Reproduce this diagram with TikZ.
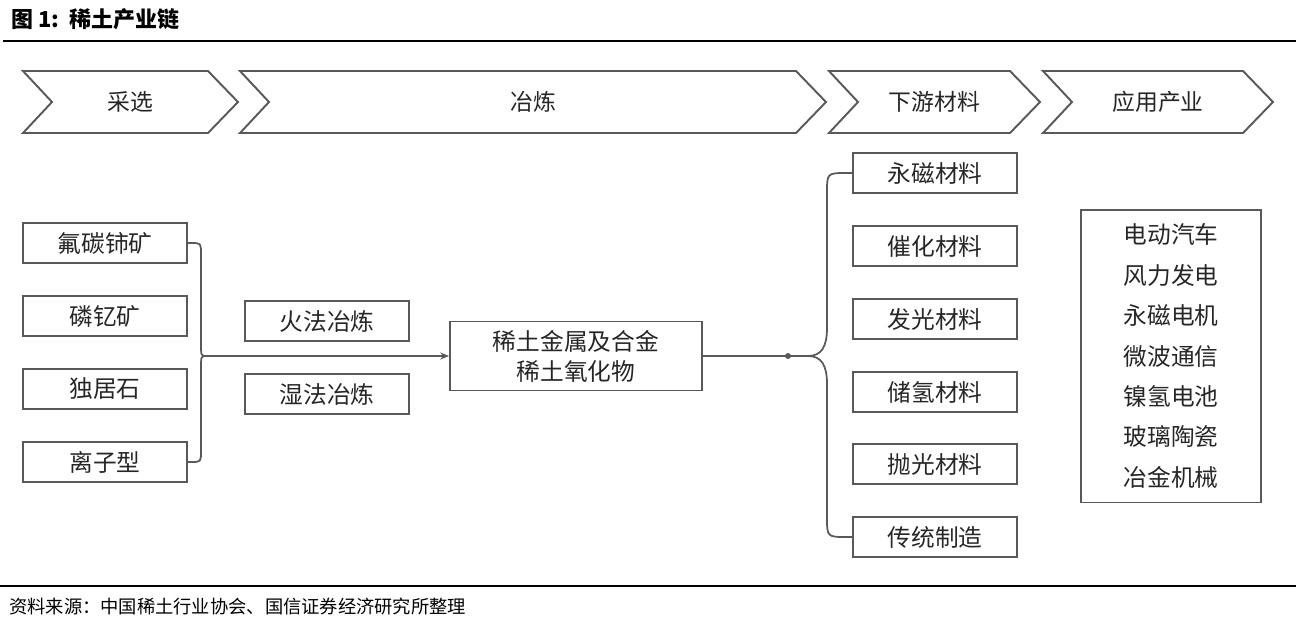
\documentclass[tikz,border=0pt]{standalone}
\usepackage{fontspec}
\setmainfont{Noto Sans CJK SC}
\usetikzlibrary{positioning,arrows.meta,calc}
\definecolor{linegray}{HTML}{595959}
\definecolor{inkgray}{HTML}{262626}

\tikzset{
  stage/.style={draw=linegray, line width=1.1pt, fill=white},
  stagetext/.style={font=\fontsize{13}{15}\selectfont, text=inkgray},
  item/.style={draw=linegray, line width=1.1pt, minimum width=3.28cm, minimum height=0.8cm,
    inner sep=0pt, font=\fontsize{13.5}{16}\selectfont, text=inkgray},
  conn/.style={draw=linegray, line width=1pt},
}

\begin{document}
\begin{tikzpicture}[x=0.02cm, y=-0.02cm]
        \useasboundingbox (0,0) rectangle (1306,620);
        % Title and rules
        \node[anchor=west, font=\bfseries\fontsize{12.5}{14}\selectfont] (title) at (5,19) {图 1:\ \ 稀土产业链};
        \draw[black, line width=0.8pt] (3,41) -- (1296,41);
        \draw[black, line width=0.8pt] (0,586) -- (1296,586);
        \node[anchor=west, font=\fontsize{10.4}{13}\selectfont] (source) at (3,607) {资料来源：中国稀土行业协会、国信证券经济研究所整理};
        % Stage chevrons
        \foreach \l/\r/\lab [count=\i] in {23/208/采选, 240/796/冶炼, 829/1010/下游材料, 1043/1243/应用产业} {
          \draw[stage] (\l,71) -- (\r,71) -- (\r+30,102) -- (\r,133) -- (\l,133) -- (\l+29,102) -- cycle;
          \node[stagetext] (stage\i) at ({(\l+\r+30)/2},102) {\lab};
        }
        % Ores
        \node[item] (ore1) at (105,243) {氟碳铈矿};
        \node[item] (ore2) at (105,316) {磷钇矿};
        \node[item] (ore3) at (105,389) {独居石};
        \node[item] (ore4) at (105,462) {离子型};
        % Smelting
        \node[item] (fire) at (327,321) {火法冶炼};
        \node[item] (wet) at (327,394) {湿法冶炼};
        \node[item, minimum width=5.04cm, minimum height=1.38cm, align=center,
          font=\fontsize{13.5}{17}\selectfont] (metal) at (576,356) {稀土金属及合金\\稀土氧化物};
        % Downstream materials
        \node[item] (mat1) at (935,173) {永磁材料};
        \node[item] (mat2) at (935,246) {催化材料};
        \node[item] (mat3) at (935,319) {发光材料};
        \node[item] (mat4) at (935,392) {储氢材料};
        \node[item] (mat5) at (935,464) {抛光材料};
        \node[item] (mat6) at (935,537) {传统制造};
        % Applications
        \node[item, minimum width=3.6cm, minimum height=5.86cm, align=center,
          font=\fontsize{13.5}{23}\selectfont] (apps) at (1171,356)
          {电动汽车\\风力发电\\永磁电机\\微波通信\\镍氢电池\\玻璃陶瓷\\冶金机械};
        % Left brace
        \coordinate (lj) at (206,356);
        \draw[conn] (ore1.east) -- (191,243) .. controls (201,243) .. (201,254) -- (201,343)
          .. controls (201,356) .. (lj);
        \draw[conn] (lj) .. controls (201,356) .. (201,369) -- (201,451)
          .. controls (201,462) .. (191,462) -- (ore4.east);
        \draw[conn, -{Stealth[length=5pt,width=4pt]}] (lj) -- (metal.west);
        % Right brace
        \coordinate (dot) at (788,356);
        \coordinate (rj) at (808,356);
        \draw[conn] (metal.east) -- (rj);
        \fill[linegray] (dot) circle (3);
        \draw[conn] (rj) .. controls (822,356) and (827,346) .. (827,328) -- (827,193)
          .. controls (827,173) .. (847,173) -- (mat1.west);
        \draw[conn] (rj) .. controls (822,356) and (827,366) .. (827,384) -- (827,517)
          .. controls (827,537) .. (847,537) -- (mat6.west);
      \end{tikzpicture}
\end{document}
